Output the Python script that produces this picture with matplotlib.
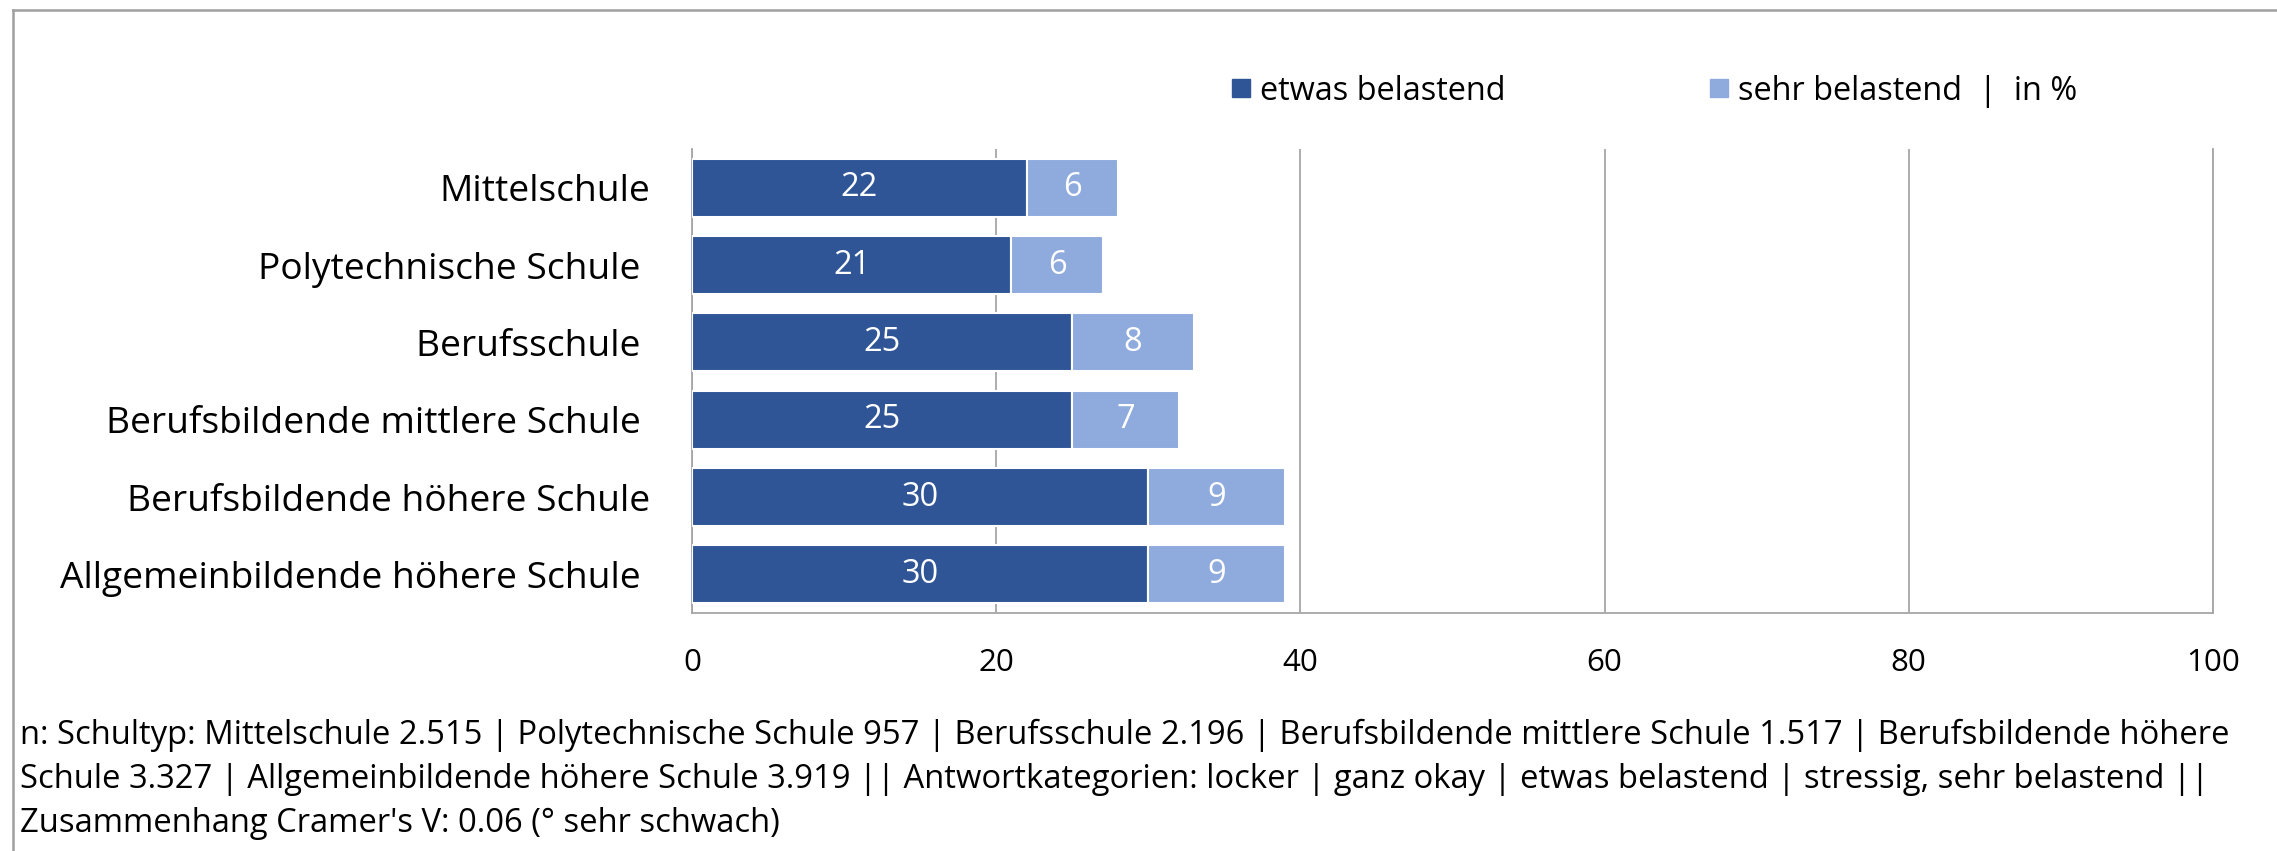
import numpy as np
import matplotlib
matplotlib.use('Agg')
import matplotlib.pyplot as plt
from matplotlib.lines import Line2D

# data
schools = ['Mittelschule', 'Polytechnische Schule ', 'Berufsschule ',
           'Berufsbildende mittlere Schule ', 'Berufsbildende höhere Schule',
           'Allgemeinbildende höhere Schule ']
etwas = [22, 21, 25, 25, 30, 30]
sehr = [6, 6, 8, 7, 9, 9]
series_names = ['etwas belastend', 'sehr belastend  |  in %']
xticks = [0, 20, 40, 60, 80, 100]
note = ("n: Schultyp: Mittelschule 2.515 | Polytechnische Schule 957 | Berufsschule 2.196 | "
        "Berufsbildende mittlere Schule 1.517 | Berufsbildende höhere\n"
        "Schule 3.327 | Allgemeinbildende höhere Schule 3.919 || Antwortkategorien: locker | "
        "ganz okay | etwas belastend | stressig, sehr belastend ||\n"
        "Zusammenhang Cramer's V: 0.06 (° sehr schwach)")

dark = '#2F5597'
light = '#8FAADC'
grid = '#A6A6A6'

plt.rcParams['font.family'] = ['Open Sans', 'DejaVu Sans']

W, H = 2277, 851
fig = plt.figure(figsize=(W / 100, H / 100), dpi=100)
ax = fig.add_axes([692 / W, 1 - 613 / H, (2213 - 692) / W, (613 - 149) / H])

y = np.arange(len(schools))
b1 = ax.barh(y, etwas, height=0.75, color=dark, edgecolor='white', linewidth=1.5,
             label=series_names[0], zorder=3)
b2 = ax.barh(y, sehr, left=etwas, height=0.75, color=light, edgecolor='white',
             linewidth=1.5, label=series_names[1], zorder=3)
ax.bar_label(b1, label_type='center', color='white', fontsize=23.5)
ax.bar_label(b2, label_type='center', color='white', fontsize=23.5)

ax.set_xlim(0, 100)
ax.set_ylim(len(schools) - 0.5, -0.5)
ax.set_xticks(xticks)
ax.set_yticks(y)
ax.set_yticklabels(schools, fontsize=26.7)
ax.tick_params(axis='y', length=0, pad=30)
ax.tick_params(axis='x', length=0, pad=25, labelsize=22.5)
ax.xaxis.grid(True, color=grid, linewidth=1.3, zorder=0)
ax.set_axisbelow(True)
ax.spines['top'].set_visible(False)
for s in ['left', 'bottom', 'right']:
    ax.spines[s].set_color(grid)
    ax.spines[s].set_linewidth(1.3)

# legend
handles = [Line2D([], [], marker='s', linestyle='none', markersize=13, color=dark),
           Line2D([], [], marker='s', linestyle='none', markersize=13, color=light)]
fig.legend(handles, series_names, loc='center left', bbox_to_anchor=(1232 / W, 1 - 91 / H),
           ncol=2, frameon=False, fontsize=23.4, handlelength=0.55, handletextpad=0.3,
           columnspacing=6.3, borderpad=0, borderaxespad=0)

# footnote
fig.text(20 / W, 1 - 719 / H, note, fontsize=23.6, va='top', ha='left', linespacing=1.43)

# outer frame (only top and left edges visible)
fig.add_artist(Line2D([13 / W, 1], [1 - 10 / H, 1 - 10 / H], color='#A0A0A0', linewidth=1.8))
fig.add_artist(Line2D([13 / W, 13 / W], [0, 1 - 10 / H], color='#A0A0A0', linewidth=1.8))

plt.savefig('out.png', dpi=100)
